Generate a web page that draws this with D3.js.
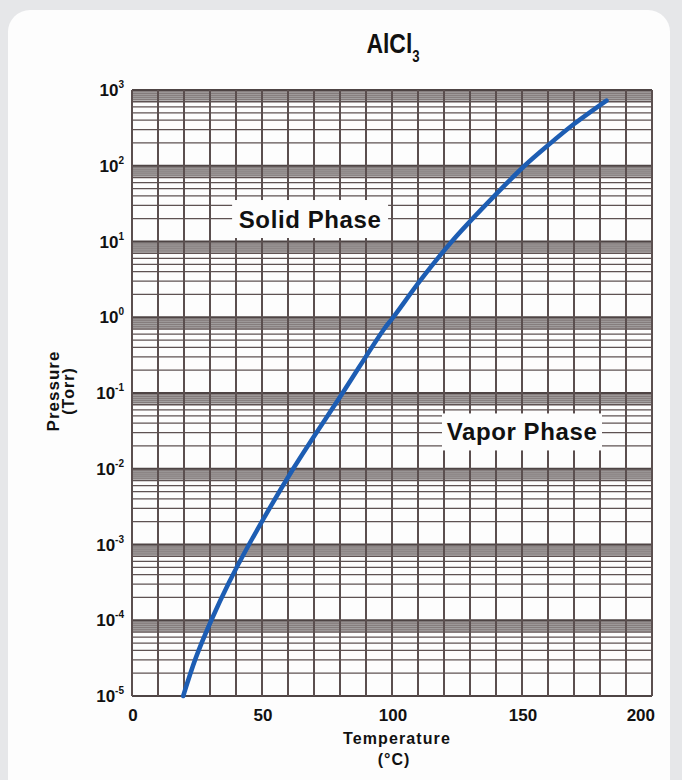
<!DOCTYPE html>
<html><head><meta charset="utf-8">
<script src="https://cdn.jsdelivr.net/npm/d3@7"></script>
<style>
body{margin:0;background:#e6e7e9;}
svg{display:block;font-family:"Liberation Sans",Arial,Helvetica,sans-serif;font-weight:bold;}
</style>
</head><body><svg id="c" width="682" height="780"></svg>
<script>
// ---- data ----
const temperatures = [19.7, 24.5, 30.5, 37.3, 45, 62, 81, 96.7, 100.5, 111.2, 123, 136.5, 151, 160, 170, 182.5];
const pressures    = [1e-5, 3.16e-5, 1e-4, 3.16e-4, 1e-3, 1e-2, 1e-1, 0.68, 1, 3.16, 10, 31.6, 100, 186, 355, 724];
const xTickValues  = [0, 50, 100, 150, 200];
const yTickExponents = [3, 2, 1, 0, -1, -2, -3, -4, -5];
const phaseLabels  = ["Solid Phase", "Vapor Phase"];
const phaseT       = [68.5, 150];
const phaseP       = [19.8, 0.0306];

const svg = d3.select("#c");
// card
svg.append("rect").attr("x", 8).attr("y", 10).attr("width", 662).attr("height", 820)
  .attr("rx", 22).attr("fill", "#fdfdfd");

const x = d3.scaleLinear().domain([0, 200]).range([132, 652]);
const y = d3.scaleLog().domain([1e-5, 1e3]).range([696, 90]);

const g = svg.append("g");

// horizontal grid
for (let n = -5; n < 3; n++) {
  const top = Math.pow(10, n + 1), base = Math.pow(10, n);
  g.append("rect").attr("x", x(0)).attr("width", x(200) - x(0))
    .attr("y", y(top)).attr("height", y(0.72 * top) - y(top)).attr("fill", "#a4a1a1");
  [9.5, 9, 8.5, 8, 7.5].forEach(k => {
    g.append("line").attr("x1", x(0)).attr("x2", x(200))
      .attr("y1", y(k * base)).attr("y2", y(k * base))
      .attr("stroke", "#7a7070").attr("stroke-width", 0.8);
  });
  [7, 6, 5, 4, 3, 2].forEach(k => {
    g.append("line").attr("x1", x(0)).attr("x2", x(200))
      .attr("y1", y(k * base)).attr("y2", y(k * base))
      .attr("stroke", "#5e5252").attr("stroke-width", 1.3);
  });
}
yTickExponents.forEach(e => {
  g.append("line").attr("x1", x(0)).attr("x2", x(200))
    .attr("y1", y(Math.pow(10, e))).attr("y2", y(Math.pow(10, e)))
    .attr("stroke", "#4e4444").attr("stroke-width", 1.8);
});
// vertical grid
d3.range(0, 201, 10).forEach(t => {
  g.append("line").attr("x1", x(t)).attr("x2", x(t)).attr("y1", y(1e3)).attr("y2", y(1e-5))
    .attr("stroke", "#5b4f4f").attr("stroke-width", 2);
});

// phase label boxes
const boxW = [156, 160], boxH = [38, 37];
phaseLabels.forEach((lab, i) => {
  const cx = x(phaseT[i]), cy = y(phaseP[i]);
  svg.append("rect").attr("x", cx - boxW[i] / 2).attr("y", cy - boxH[i] / 2)
    .attr("width", boxW[i]).attr("height", boxH[i]).attr("fill", "#fdfdfd");
  svg.append("text").attr("x", cx).attr("y", cy + 8.5).attr("text-anchor", "middle")
    .attr("font-size", 24).attr("letter-spacing", 0.6).attr("fill", "#111").text(lab);
});

// curve
const pts = temperatures.map((t, i) => [t, pressures[i]]);
svg.append("path").datum(pts)
  .attr("d", d3.line().x(d => x(d[0])).y(d => y(d[1])).curve(d3.curveCatmullRom.alpha(0.5)))
  .attr("fill", "none").attr("stroke", "#1d5db3").attr("stroke-width", 4.5)
  .attr("stroke-linecap", "round");

// y tick labels
yTickExponents.forEach(e => {
  const t = svg.append("text").attr("x", 124).attr("y", y(Math.pow(10, e)) + 6)
    .attr("text-anchor", "end").attr("fill", "#111").attr("font-size", 17);
  t.append("tspan").text("10");
  t.append("tspan").attr("font-size", 10).attr("dy", -8).text(String(e));
});

// x tick labels
xTickValues.forEach((v, i) => {
  const last = i === xTickValues.length - 1;
  svg.append("text").attr("x", last ? x(v) + 3 : x(v) + 1).attr("y", 721)
    .attr("text-anchor", last ? "end" : "middle").attr("font-size", 17)
    .attr("fill", "#111").text(v);
});

// axis titles
svg.append("text").attr("x", 397).attr("y", 744).attr("text-anchor", "middle")
  .attr("font-size", 16).attr("letter-spacing", 1.1).attr("fill", "#111").text("Temperature");
svg.append("text").attr("x", 394).attr("y", 765).attr("text-anchor", "middle")
  .attr("font-size", 16).attr("letter-spacing", 1).attr("fill", "#111").text("(°C)");
svg.append("text").attr("transform", "translate(59,391) rotate(-90)").attr("text-anchor", "middle")
  .attr("font-size", 17).attr("letter-spacing", 1).attr("fill", "#111").text("Pressure");
svg.append("text").attr("transform", "translate(74,391) rotate(-90)").attr("text-anchor", "middle")
  .attr("font-size", 16).attr("letter-spacing", 1).attr("fill", "#111").text("(Torr)");

// title
const title = svg.append("text").attr("transform", "translate(393,53) scale(0.82,1)")
  .attr("text-anchor", "middle").attr("font-size", 28).attr("fill", "#111");
title.append("tspan").text("AlCl");
title.append("tspan").attr("font-size", 16).attr("dy", 9).text("3");
</script>
</body></html>
